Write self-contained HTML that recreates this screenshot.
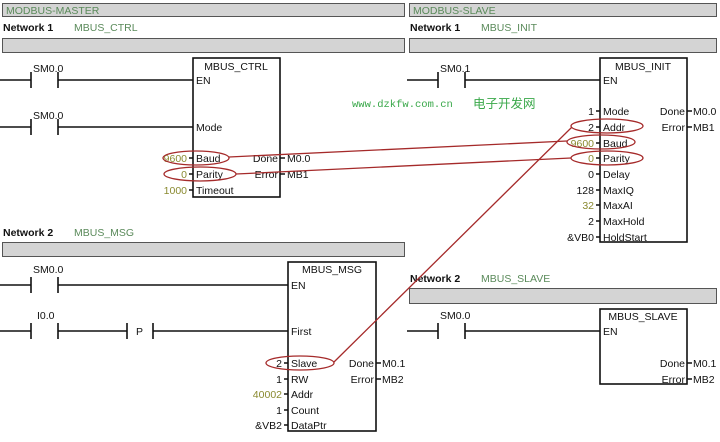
<!DOCTYPE html>
<html><head><meta charset="utf-8"><style>
html,body{margin:0;padding:0;background:#fff;}
svg{display:block;font-family:"Liberation Sans",Arial,sans-serif;}
.t{font-size:10.5px;fill:#111;}
.g{font-size:10.5px;fill:#5a8a5a;}
.y{font-size:10.5px;fill:#8a8a30;}
.b{font-size:10.5px;font-weight:bold;fill:#111;}
</style></head><body>
<svg width="720" height="442" viewBox="0 0 720 442" xmlns="http://www.w3.org/2000/svg">
<g fill="#d4d4d4" stroke="#555" stroke-width="1">
<rect x="2.5" y="3.5" width="402" height="13"/>
<rect x="409.5" y="3.5" width="307" height="13"/>
<rect x="2.5" y="38.5" width="402" height="14"/>
<rect x="409.5" y="38.5" width="307" height="14"/>
<rect x="2.5" y="242.5" width="402" height="14"/>
<rect x="409.5" y="288.5" width="307" height="15"/>
</g>
<text x="6" y="14" class="g">MODBUS-MASTER</text>
<text x="413" y="14" class="g">MODBUS-SLAVE</text>
<text x="3" y="31" class="b">Network 1</text><text x="74" y="31" class="g">MBUS_CTRL</text>
<text x="410" y="31" class="b">Network 1</text><text x="481" y="31" class="g">MBUS_INIT</text>
<text x="3" y="236" class="b">Network 2</text><text x="74" y="236" class="g">MBUS_MSG</text>
<text x="410" y="282" class="b">Network 2</text><text x="481" y="282" class="g">MBUS_SLAVE</text>

<g stroke="#111" stroke-width="1.6" fill="none">
<path d="M0 80H31M31 72V88M58 72V88M58 80H193"/>
<path d="M0 127H31M31 119V135M58 119V135M58 127H193"/>
<rect x="193" y="58" width="87" height="139"/>
<path d="M407 80H438M438 72V88M465 72V88M465 80H600"/>
<rect x="600" y="58" width="87" height="184"/>
<path d="M0 285H31M31 277V293M58 277V293M58 285H288"/>
<path d="M0 331H31M31 323V339M58 323V339M58 331H127M127 323V339M153 323V339M153 331H288"/>
<rect x="288" y="262" width="88" height="169"/>
<path d="M407 331H438M438 323V339M465 323V339M465 331H600"/>
<rect x="600" y="309" width="87" height="75"/>
<path d="M189 158H193M189 174H193M189 190H193M280 158H285M280 174H285"/>
<path d="M596 111H600M596 127H600M596 143H600M596 158H600M596 174H600M596 190H600M596 205H600M596 221H600M596 237H600M687 111H692M687 127H692"/>
<path d="M284 363H288M284 379H288M284 394H288M284 410H288M284 425H288M376 363H381M376 379H381"/>
<path d="M687 363H692M687 379H692"/>
</g>
<text x="33" y="72" class="t">SM0.0</text><text x="33" y="119" class="t">SM0.0</text>
<text x="440" y="72" class="t">SM0.1</text>
<text x="33" y="273" class="t">SM0.0</text><text x="37" y="319" class="t">I0.0</text>
<text x="136" y="335" class="t">P</text>
<text x="440" y="319" class="t">SM0.0</text>

<text x="236" y="70" text-anchor="middle" class="t">MBUS_CTRL</text>
<text x="196" y="84" class="t">EN</text><text x="196" y="131" class="t">Mode</text>
<text x="196" y="162" class="t">Baud</text><text x="196" y="178" class="t">Parity</text><text x="196" y="194" class="t">Timeout</text>
<text x="278" y="162" text-anchor="end" class="t">Done</text><text x="278" y="178" text-anchor="end" class="t">Error</text>
<text x="287" y="162" class="t">M0.0</text><text x="287" y="178" class="t">MB1</text>
<text x="187" y="162" text-anchor="end" class="y">9600</text><text x="187" y="178" text-anchor="end" class="y">0</text><text x="187" y="194" text-anchor="end" class="y">1000</text>

<text x="643" y="70" text-anchor="middle" class="t">MBUS_INIT</text>
<text x="603" y="84" class="t">EN</text>
<text x="603" y="115" class="t">Mode</text><text x="603" y="131" class="t">Addr</text><text x="603" y="147" class="t">Baud</text><text x="603" y="162" class="t">Parity</text><text x="603" y="178" class="t">Delay</text><text x="603" y="194" class="t">MaxIQ</text><text x="603" y="209" class="t">MaxAI</text><text x="603" y="225" class="t">MaxHold</text><text x="603" y="241" class="t">HoldStart</text>
<text x="594" y="115" text-anchor="end" class="t">1</text><text x="594" y="131" text-anchor="end" class="t">2</text><text x="594" y="147" text-anchor="end" class="y">9600</text><text x="594" y="162" text-anchor="end" class="y">0</text><text x="594" y="178" text-anchor="end" class="t">0</text><text x="594" y="194" text-anchor="end" class="t">128</text><text x="594" y="209" text-anchor="end" class="y">32</text><text x="594" y="225" text-anchor="end" class="t">2</text><text x="594" y="241" text-anchor="end" class="t">&amp;VB0</text>
<text x="685" y="115" text-anchor="end" class="t">Done</text><text x="685" y="131" text-anchor="end" class="t">Error</text>
<text x="693" y="115" class="t">M0.0</text><text x="693" y="131" class="t">MB1</text>

<text x="332" y="273" text-anchor="middle" class="t">MBUS_MSG</text>
<text x="291" y="289" class="t">EN</text><text x="291" y="335" class="t">First</text>
<text x="291" y="367" class="t">Slave</text><text x="291" y="383" class="t">RW</text><text x="291" y="398" class="t">Addr</text><text x="291" y="414" class="t">Count</text><text x="291" y="429" class="t">DataPtr</text>
<text x="282" y="367" text-anchor="end" class="t">2</text><text x="282" y="383" text-anchor="end" class="t">1</text><text x="282" y="398" text-anchor="end" class="y">40002</text><text x="282" y="414" text-anchor="end" class="t">1</text><text x="282" y="429" text-anchor="end" class="t">&amp;VB2</text>
<text x="374" y="367" text-anchor="end" class="t">Done</text><text x="374" y="383" text-anchor="end" class="t">Error</text>
<text x="382" y="367" class="t">M0.1</text><text x="382" y="383" class="t">MB2</text>

<text x="643" y="320" text-anchor="middle" class="t">MBUS_SLAVE</text>
<text x="603" y="335" class="t">EN</text>
<text x="685" y="367" text-anchor="end" class="t">Done</text><text x="685" y="383" text-anchor="end" class="t">Error</text>
<text x="693" y="367" class="t">M0.1</text><text x="693" y="383" class="t">MB2</text>

<text x="352" y="107" font-family="'Liberation Mono',monospace" font-size="10.5" fill="#3aa84a">www.dzkfw.com.cn</text>
<text x="473" y="108" font-family="'Noto Sans CJK SC',sans-serif" font-size="12.5" fill="#3aa84a">电子开发网</text>
<g stroke="#a52a2a" stroke-width="1.3" fill="none">
<ellipse cx="196" cy="158" rx="33" ry="7"/>
<ellipse cx="200" cy="174" rx="36" ry="7"/>
<ellipse cx="300" cy="363" rx="34" ry="7"/>
<ellipse cx="607" cy="126" rx="36" ry="7"/>
<ellipse cx="601" cy="142" rx="34" ry="7"/>
<ellipse cx="607" cy="158" rx="36" ry="7"/>
<path d="M229 157L567 141"/>
<path d="M236 174L571 158"/>
<path d="M334 362L572 127"/>
</g>
</svg>
</body></html>
